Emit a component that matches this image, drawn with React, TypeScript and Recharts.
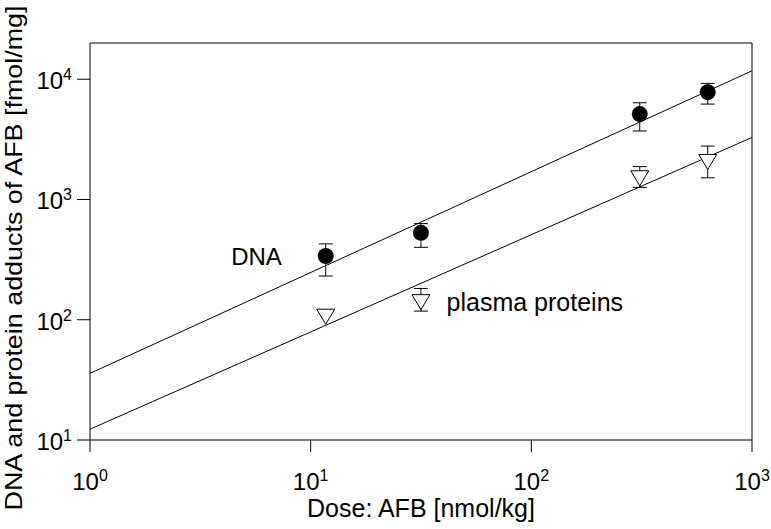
import React from 'react';
import { ComposedChart, XAxis, YAxis, Scatter, ErrorBar, ReferenceDot } from 'recharts';

// values (log-log)
const doses = [11.7, 31.6, 310, 630];
const dnaMean = [339, 528, 5130, 7800];
const dnaLow = [231, 400, 3710, 6210];
const dnaHigh = [427, 630, 6370, 9230];
const plasmaMean = [106, 140, 1500, 2050];
const plasmaLow = [106, 118, 1260, 1515];
const plasmaHigh = [106, 182, 1875, 2780];

// regression lines, end points at the axis limits
const fitDoses = [1, 1000];
const dnaFit = [35.8, 11750];
const plasmaFit = [12.3, 3280];

const xTicks = [1, 10, 100, 1000];
const yTicks = [10, 100, 1000, 10000];

const FONT = '"Liberation Sans", Arial, sans-serif';

const withErr = (mean: number[], low: number[], high: number[]) =>
  doses.map((x, i) => ({
    x,
    y: mean[i],
    err: high[i] === low[i] ? null : [mean[i] - low[i], high[i] - mean[i]],
  }));

const dnaData = withErr(dnaMean, dnaLow, dnaHigh);
const plasmaData = withErr(plasmaMean, plasmaLow, plasmaHigh);
const dnaLine = fitDoses.map((x, i) => ({ x, y: dnaFit[i] }));
const plasmaLine = fitDoses.map((x, i) => ({ x, y: plasmaFit[i] }));

const Pow = ({ x, y, value, anchor }: any) => {
  const e = Math.round(Math.log10(value));
  return (
    <text x={x} y={y} textAnchor={anchor} fontFamily={FONT} fontSize={24} fill="#000">
      <tspan>10</tspan>
      <tspan dy={-9} fontSize={16}>{e}</tspan>
    </text>
  );
};

// tick mark drawn with the label (props.y sits at the end of the tick)
const XTick = (props: any) => (
  <g>
    <line x1={props.x} x2={props.x} y1={props.y - 12} y2={props.y} stroke="#000" strokeWidth={1} />
    <Pow x={props.x} y={props.y + 38} value={props.payload.value} anchor="middle" />
  </g>
);
const YTick = (props: any) => <Pow x={props.x} y={props.y + 10} value={props.payload.value} anchor="end" />;

const Circle = (props: any) => <circle cx={props.cx} cy={props.cy} r={8} fill="#000" />;
const Triangle = (props: any) => {
  const { cx, cy } = props;
  return (
    <polygon
      points={`${cx - 9},${cy - 7.5} ${cx + 9},${cy - 7.5} ${cx},${cy + 7.5}`}
      fill="#fff"
      stroke="#000"
      strokeWidth={1}
    />
  );
};
const NoShape = () => <g />;

export default function App() {
  return (
    <div style={{ position: 'absolute', left: 0, top: 0, background: '#fff' }}>
      <ComposedChart width={771} height={529} margin={{ top: 42, right: 18, bottom: 0, left: 0 }}>
        <XAxis
          dataKey="x"
          type="number"
          scale="log"
          domain={[1, 1000]}
          ticks={xTicks}
          allowDataOverflow
          height={89}
          tickSize={12}
          tickMargin={0}
          tickLine={false}
          tick={XTick}
          stroke="#000"
          label={{
            content: () => (
              <text x={421} y={517} textAnchor="middle" fontFamily={FONT} fontSize={25} fill="#000">
                Dose: AFB [nmol/kg]
              </text>
            ),
          }}
        />
        <XAxis xAxisId="top" orientation="top" type="number" scale="log" domain={[1, 1000]} height={1} tick={false} tickLine={false} stroke="#000" />
        <YAxis
          dataKey="y"
          type="number"
          scale="log"
          domain={[10, 20000]}
          ticks={yTicks}
          allowDataOverflow
          width={90}
          tickSize={13}
          tickMargin={5}
          tick={YTick}
          stroke="#000"
          label={{
            content: () => (
              <text
                x={21.5}
                y={258}
                transform="rotate(-90, 21.5, 258)"
                textAnchor="middle"
                fontFamily={FONT}
                fontSize={24}
                textLength={505}
                lengthAdjust="spacingAndGlyphs"
                fill="#000"
              >
                DNA and protein adducts of AFB [fmol/mg]
              </text>
            ),
          }}
        />
        <YAxis yAxisId="right" orientation="right" type="number" scale="log" domain={[10, 20000]} width={1} tick={false} tickLine={false} stroke="#000" />

        <Scatter data={dnaLine} line={{ stroke: '#000', strokeWidth: 1 }} shape={NoShape} isAnimationActive={false} />
        <Scatter data={plasmaLine} line={{ stroke: '#000', strokeWidth: 1 }} shape={NoShape} isAnimationActive={false} />

        <Scatter data={dnaData} shape={Circle} isAnimationActive={false}>
          <ErrorBar dataKey="err" direction="y" width={7} stroke="#000" strokeWidth={1} isAnimationActive={false} />
        </Scatter>
        <Scatter data={plasmaData} shape={Triangle} isAnimationActive={false}>
          <ErrorBar dataKey="err" direction="y" width={7} stroke="#000" strokeWidth={1} isAnimationActive={false} />
        </Scatter>

        <ReferenceDot
          x={7.4}
          y={339}
          r={0}
          stroke="none"
          fill="none"
          label={{
            content: (p: any) => (
              <text x={p.viewBox.x} y={p.viewBox.y + 9} textAnchor="end" fontFamily={FONT} fontSize={24} fill="#000">
                DNA
              </text>
            ),
          }}
        />
        <ReferenceDot
          x={41.3}
          y={140}
          r={0}
          stroke="none"
          fill="none"
          label={{
            content: (p: any) => (
              <text x={p.viewBox.x} y={p.viewBox.y + 9} textAnchor="start" fontFamily={FONT} fontSize={25} fill="#000">
                plasma proteins
              </text>
            ),
          }}
        />
      </ComposedChart>
    </div>
  );
}
